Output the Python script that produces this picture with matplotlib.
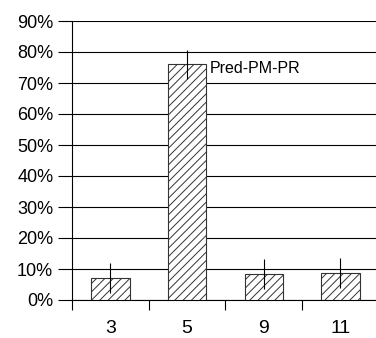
import matplotlib
matplotlib.use("Agg")
import matplotlib.pyplot as plt
from matplotlib.ticker import FuncFormatter

categories = ["3", "5", "9", "11"]
values = [7.1, 76.0, 8.4, 8.6]
errors = [4.8, 4.8, 4.7, 4.8]
label = "Pred-PM-PR"

plt.rcParams['font.family'] = ['Liberation Sans', 'DejaVu Sans']
plt.rcParams['hatch.color'] = '#555555'
plt.rcParams['hatch.linewidth'] = 0.7

fig = plt.figure(figsize=(3.76, 3.38), dpi=100)
ax = fig.add_axes([72/376, (338-300)/338, 304/376, (300-21)/338])

pos = [i + 0.5 for i in range(len(categories))]
ax.bar(pos, values, width=0.5, facecolor='white', edgecolor='#333333',
       linewidth=0.8, hatch='////', zorder=3)
ax.errorbar(pos, values, yerr=errors, fmt='none', ecolor='black',
            elinewidth=0.8, capsize=0, zorder=4)

ax.set_xlim(0, 304/76.7)
ax.set_ylim(0, 90)
ax.set_yticks(range(0, 91, 10))
ax.yaxis.set_major_formatter(FuncFormatter(lambda v, p: f"{int(v)}%"))
ax.grid(axis='y', color='black', linewidth=0.8, zorder=0)
ax.tick_params(axis='y', length=10, width=0.8, labelsize=13, pad=3.5)

ax.set_xticks([0, 1, 2, 3])
ax.set_xticklabels([])
ax.set_xticks(pos, minor=True)
ax.set_xticklabels(categories, minor=True, fontsize=14)
ax.tick_params(axis='x', which='major', length=7.5, width=0.8, direction='out')
ax.tick_params(axis='x', which='minor', length=0, pad=14.5)

for s in ['top', 'right']:
    ax.spines[s].set_visible(False)
ax.spines['left'].set_linewidth(0.8)
ax.spines['bottom'].set_linewidth(0.8)

ax.text(pos[1] + 0.3, 74.8, label, fontsize=11.5, va='center', ha='left', zorder=5)

fig.savefig("out.png", dpi=100)
